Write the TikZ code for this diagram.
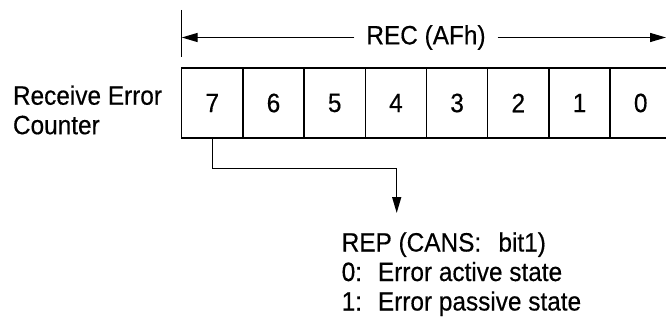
\documentclass[tikz,border=0pt]{standalone}
\usepackage{fontspec}
\setmainfont[FakeStretch=0.92,FakeBold=0.4]{Liberation Sans}
\usetikzlibrary{arrows.meta}
\begin{document}
\begin{tikzpicture}[x=1pt,y=-1pt,line width=1.4pt,
  txt/.style={font=\fontsize{26.5}{29.5}\selectfont},
  bitbox/.style={draw,txt,minimum width=61.2pt,minimum height=70pt,inner sep=0pt,outer sep=0pt,anchor=north west},
  lbl/.style={txt,inner sep=0pt,outer sep=0pt},
  tip/.style={-{Triangle[length=16pt,width=9pt]}}]
\useasboundingbox (0,0) rectangle (666,323);
\clip (0,0) rectangle (666,323);
% bit boxes
\foreach \i/\b in {0/7,1/6,2/5,3/4,4/3,5/2,6/1,7/0}
  \node[bitbox] (b\b) at ({181.7+61.2*\i},68) {\b};
% register label
\node[lbl,anchor=north west,align=left] (name) at (13,85.5) {Receive Error\\Counter};
% REC span
\coordinate (tickTop) at (181.7,10);
\coordinate (tickBot) at (181.7,57.5);
\draw[line width=1.2pt] (tickTop) -- (tickBot);
\node[lbl] (rec) at (426,37.5) {REC (AFh)};
\coordinate (recL) at ([xshift=-12pt]rec.west);
\coordinate (recR) at ([xshift=12pt]rec.east);
\coordinate (recEnd) at (666,37.5);
\draw[tip] (recL) -- (tickBot |- recL);
\draw[tip] (recR) -- (recEnd);
% REP connector
\coordinate (c1) at (212.3,168.3);
\coordinate (c2) at (396.7,168.3);
\coordinate (c3) at (396.7,213);
\draw[tip] (b7.south) -- (b7.south |- c1) -- (c2) -- (c3);
\node[lbl,anchor=north west,align=left] (rep) at (341.7,232.3)
  {REP (CANS:\hspace{0.65em}bit1)\\0:\hspace{0.6em}Error active state\\1:\hspace{0.6em}Error passive state};
\end{tikzpicture}
\end{document}
